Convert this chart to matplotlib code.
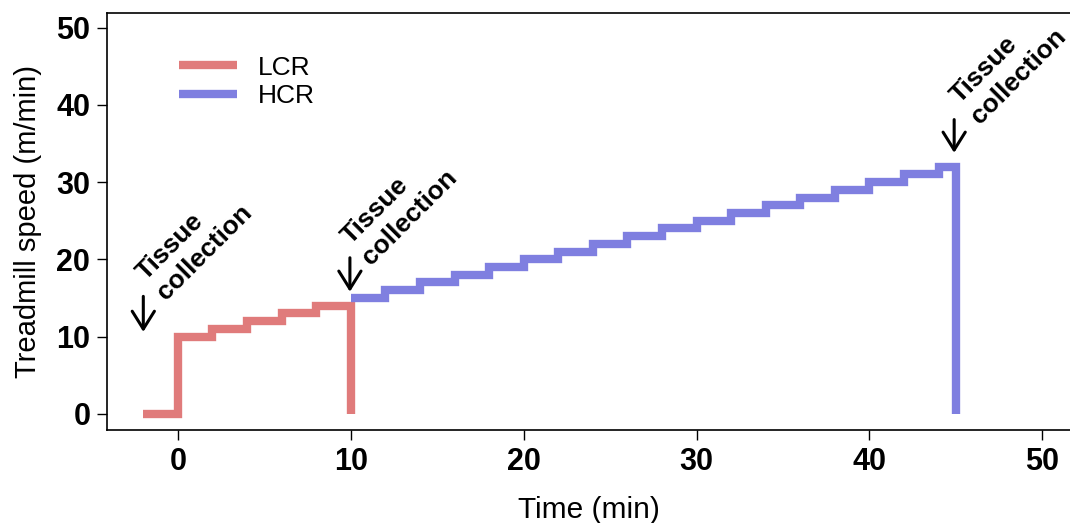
import matplotlib.pyplot as plt

plt.rcParams["font.family"] = ["Liberation Sans", "DejaVu Sans"]

# step profiles (time in min, speed in m/min)
lcr_time = [-2, 0, 2, 4, 6, 8, 10, 10]
lcr_speed = [0, 10, 11, 12, 13, 14, 14, 0]

hcr_time = [10, 12, 14, 16, 18, 20, 22, 24, 26, 28, 30, 32, 34, 36, 38, 40, 42, 44, 45, 45]
hcr_speed = [15, 16, 17, 18, 19, 20, 21, 22, 23, 24, 25, 26, 27, 28, 29, 30, 31, 32, 32, 0]

# tissue collection markers: arrow x, arrow top, arrow tip, label x, label y
arrow_x = [-2, 9.95, 44.9]
arrow_top = [15.2, 20.2, 38.1]
arrow_tip = [10.6, 15.8, 33.8]
label_x = [-0.5, 11.4, 46.6]
label_y = [14.1, 18.7, 37.0]

x_ticks = [0, 10, 20, 30, 40, 50]
y_ticks = [0, 10, 20, 30, 40, 50]

lcr_color = "#e07b7b"
hcr_color = "#7f7fe0"

fig = plt.figure(figsize=(10.7, 5.23), dpi=100)
ax = fig.add_axes([0.1, 0.178, 0.9, 0.797])

ax.plot(lcr_time, lcr_speed, drawstyle="steps-post", color=lcr_color, lw=6,
        solid_joinstyle="miter", solid_capstyle="butt", label="LCR")
ax.plot(hcr_time, hcr_speed, drawstyle="steps-post", color=hcr_color, lw=6,
        solid_joinstyle="miter", solid_capstyle="butt", label="HCR")

for xa, top, tip, lx, ly in zip(arrow_x, arrow_top, arrow_tip, label_x, label_y):
    ax.annotate("", xy=(xa, tip), xytext=(xa, top),
                arrowprops=dict(arrowstyle="->,head_length=0.32,head_width=0.2",
                                lw=2.2, color="black", mutation_scale=40,
                                shrinkA=0, shrinkB=0))
    ax.text(lx, ly, "Tissue\ncollection", rotation=45, rotation_mode="anchor",
            ha="left", va="bottom", fontsize=19, fontweight="bold",
            linespacing=1.25)

ax.set_xlim(-4.1, 51.6)
ax.set_ylim(-2.1, 51.9)
ax.set_xticks(x_ticks)
ax.set_yticks(y_ticks)
ax.tick_params(direction="out", length=7, width=1, labelsize=22, pad=5)
for lab in ax.get_xticklabels() + ax.get_yticklabels():
    lab.set_fontweight("bold")

ax.spines["right"].set_visible(False)
for s in ["left", "bottom", "top"]:
    ax.spines[s].set_linewidth(1.2)

ax.set_xlabel("Time (min)", fontsize=21.5, labelpad=14)
ax.set_ylabel("Treadmill speed (m/min)", fontsize=21, labelpad=10)

ax.legend(loc="upper left", bbox_to_anchor=(0.05, 0.955), frameon=False,
          fontsize=19, handlelength=2.2, handletextpad=0.8, labelspacing=0.18)

fig.savefig("out.png", dpi=100)
